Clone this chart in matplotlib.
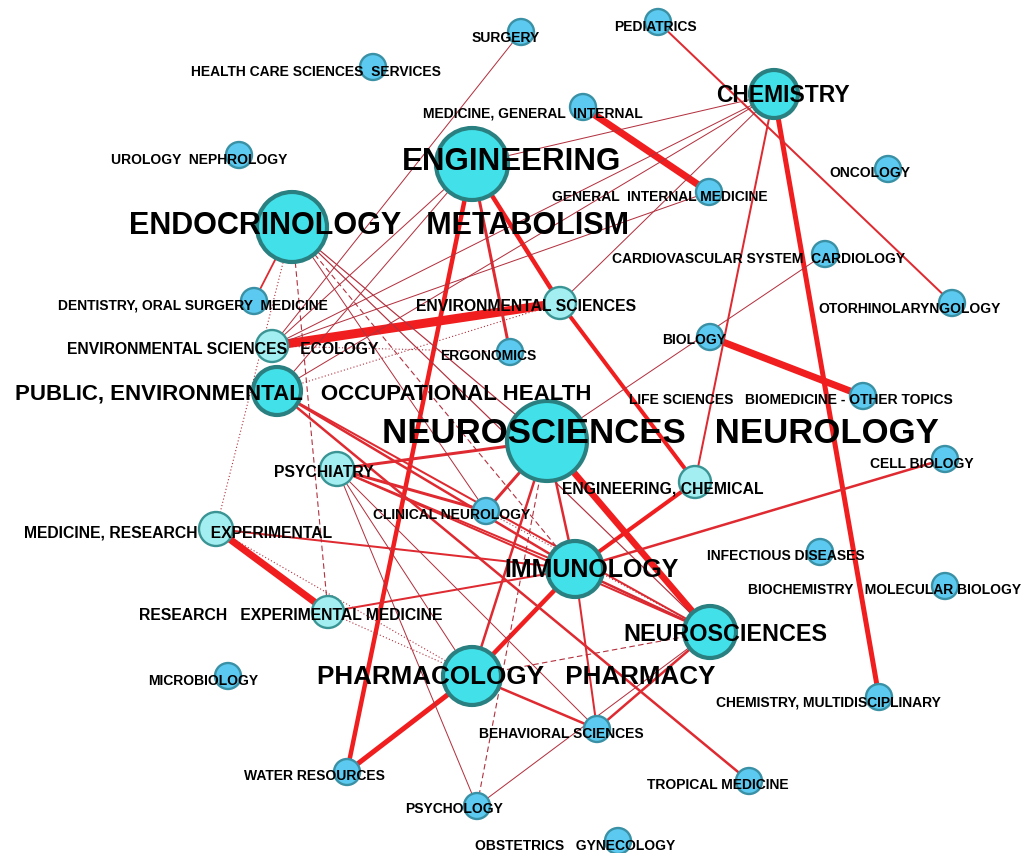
import matplotlib
matplotlib.use("Agg")
import matplotlib.pyplot as plt

plt.rcParams['font.family'] = ['Liberation Sans', 'DejaVu Sans']

# ---------------- data ----------------
nodes = [
    "SURGERY", "HEALTH CARE SCIENCES  SERVICES", "PEDIATRICS", "CHEMISTRY",
    "MEDICINE, GENERAL  INTERNAL", "ENGINEERING", "UROLOGY  NEPHROLOGY", "ONCOLOGY",
    "GENERAL  INTERNAL MEDICINE", "ENDOCRINOLOGY   METABOLISM",
    "CARDIOVASCULAR SYSTEM  CARDIOLOGY", "DENTISTRY, ORAL SURGERY  MEDICINE",
    "ENVIRONMENTAL SCIENCES", "OTORHINOLARYNGOLOGY", "ENVIRONMENTAL SCIENCES   ECOLOGY",
    "ERGONOMICS", "BIOLOGY", "PUBLIC, ENVIRONMENTAL   OCCUPATIONAL HEALTH",
    "LIFE SCIENCES   BIOMEDICINE - OTHER TOPICS", "NEUROSCIENCES   NEUROLOGY",
    "CELL BIOLOGY", "PSYCHIATRY", "ENGINEERING, CHEMICAL", "CLINICAL NEUROLOGY",
    "MEDICINE, RESEARCH   EXPERIMENTAL", "IMMUNOLOGY", "INFECTIOUS DISEASES",
    "BIOCHEMISTRY   MOLECULAR BIOLOGY", "RESEARCH   EXPERIMENTAL MEDICINE",
    "NEUROSCIENCES", "MICROBIOLOGY", "PHARMACOLOGY   PHARMACY",
    "CHEMISTRY, MULTIDISCIPLINARY", "BEHAVIORAL SCIENCES", "WATER RESOURCES",
    "TROPICAL MEDICINE", "PSYCHOLOGY", "OBSTETRICS   GYNECOLOGY",
]
# node importance class: 2 = hub, 1 = mid, 0 = small
node_class = [0, 0, 0, 2, 0, 2, 0, 0, 0, 2, 0, 0, 1, 0, 1, 0, 0, 2, 0, 2,
              0, 1, 1, 0, 1, 2, 0, 0, 1, 2, 0, 2, 0, 0, 0, 0, 0, 0]
node_weight = [13, 13, 13, 24, 13, 36, 13, 13, 13, 35, 13, 13, 16, 13, 16, 13, 13, 24, 13, 40,
               13, 17, 16, 13, 17, 28, 13, 13, 16, 26, 13, 29, 13, 13, 13, 13, 13, 13]

# edges: source, target, weight, kind ('s' solid, 'd' dashed, 'o' dotted)
edge_src = [
    "ENVIRONMENTAL SCIENCES   ECOLOGY", "MEDICINE, GENERAL  INTERNAL", "BIOLOGY",
    "MEDICINE, RESEARCH   EXPERIMENTAL", "NEUROSCIENCES   NEUROLOGY", "CHEMISTRY",
    "ENGINEERING", "PHARMACOLOGY   PHARMACY", "ENGINEERING", "ENVIRONMENTAL SCIENCES",
    "ENGINEERING, CHEMICAL", "IMMUNOLOGY",
    "ENGINEERING", "PSYCHIATRY", "PSYCHIATRY", "NEUROSCIENCES   NEUROLOGY",
    "NEUROSCIENCES   NEUROLOGY", "NEUROSCIENCES   NEUROLOGY",
    "PUBLIC, ENVIRONMENTAL   OCCUPATIONAL HEALTH", "PUBLIC, ENVIRONMENTAL   OCCUPATIONAL HEALTH",
    "PUBLIC, ENVIRONMENTAL   OCCUPATIONAL HEALTH", "PSYCHIATRY", "PSYCHIATRY",
    "IMMUNOLOGY", "IMMUNOLOGY", "IMMUNOLOGY", "NEUROSCIENCES", "PHARMACOLOGY   PHARMACY",
    "MEDICINE, RESEARCH   EXPERIMENTAL", "RESEARCH   EXPERIMENTAL MEDICINE", "CHEMISTRY",
    "PEDIATRICS", "ENDOCRINOLOGY   METABOLISM",
    "SURGERY", "CHEMISTRY", "CHEMISTRY", "CHEMISTRY", "CHEMISTRY",
    "ENGINEERING", "ENGINEERING", "ENVIRONMENTAL SCIENCES   ECOLOGY",
    "ENDOCRINOLOGY   METABOLISM", "ENDOCRINOLOGY   METABOLISM", "ENDOCRINOLOGY   METABOLISM",
    "NEUROSCIENCES   NEUROLOGY", "PSYCHIATRY", "PSYCHIATRY", "PSYCHIATRY", "NEUROSCIENCES",
    "ENDOCRINOLOGY   METABOLISM", "ENDOCRINOLOGY   METABOLISM", "NEUROSCIENCES   NEUROLOGY",
    "PHARMACOLOGY   PHARMACY",
    "ENDOCRINOLOGY   METABOLISM", "PUBLIC, ENVIRONMENTAL   OCCUPATIONAL HEALTH",
    "MEDICINE, RESEARCH   EXPERIMENTAL", "RESEARCH   EXPERIMENTAL MEDICINE", "IMMUNOLOGY",
    "CLINICAL NEUROLOGY", "ENVIRONMENTAL SCIENCES   ECOLOGY",
]
edge_dst = [
    "ENVIRONMENTAL SCIENCES", "GENERAL  INTERNAL MEDICINE", "LIFE SCIENCES   BIOMEDICINE - OTHER TOPICS",
    "RESEARCH   EXPERIMENTAL MEDICINE", "NEUROSCIENCES", "CHEMISTRY, MULTIDISCIPLINARY",
    "WATER RESOURCES", "WATER RESOURCES", "ENVIRONMENTAL SCIENCES", "ENGINEERING, CHEMICAL",
    "IMMUNOLOGY", "PHARMACOLOGY   PHARMACY",
    "ERGONOMICS", "NEUROSCIENCES   NEUROLOGY", "CLINICAL NEUROLOGY", "CLINICAL NEUROLOGY",
    "IMMUNOLOGY", "PHARMACOLOGY   PHARMACY",
    "TROPICAL MEDICINE", "IMMUNOLOGY", "NEUROSCIENCES", "IMMUNOLOGY", "NEUROSCIENCES",
    "CELL BIOLOGY", "NEUROSCIENCES", "BEHAVIORAL SCIENCES", "BEHAVIORAL SCIENCES",
    "BEHAVIORAL SCIENCES", "IMMUNOLOGY", "IMMUNOLOGY", "ENGINEERING, CHEMICAL",
    "OTORHINOLARYNGOLOGY", "DENTISTRY, ORAL SURGERY  MEDICINE",
    "ENVIRONMENTAL SCIENCES   ECOLOGY", "ENGINEERING", "ENVIRONMENTAL SCIENCES   ECOLOGY",
    "ENVIRONMENTAL SCIENCES", "PUBLIC, ENVIRONMENTAL   OCCUPATIONAL HEALTH",
    "ENVIRONMENTAL SCIENCES   ECOLOGY", "PUBLIC, ENVIRONMENTAL   OCCUPATIONAL HEALTH",
    "GENERAL  INTERNAL MEDICINE",
    "NEUROSCIENCES   NEUROLOGY", "NEUROSCIENCES", "CLINICAL NEUROLOGY",
    "CARDIOVASCULAR SYSTEM  CARDIOLOGY", "PHARMACOLOGY   PHARMACY", "PSYCHOLOGY",
    "BEHAVIORAL SCIENCES", "PSYCHOLOGY",
    "IMMUNOLOGY", "RESEARCH   EXPERIMENTAL MEDICINE", "PSYCHOLOGY", "NEUROSCIENCES",
    "MEDICINE, RESEARCH   EXPERIMENTAL", "ENVIRONMENTAL SCIENCES",
    "PHARMACOLOGY   PHARMACY", "PHARMACOLOGY   PHARMACY", "NEUROSCIENCES",
    "NEUROSCIENCES", "ERGONOMICS",
]
edge_weight = [
    9, 7, 7, 7, 6.5, 5, 4.5, 5, 4.5, 4, 4, 4.5,
    3, 3, 3, 3, 2.5, 2.5, 2.5, 2.5, 2, 2, 2, 2.5, 2.5, 2, 2.5, 2.5, 2, 2, 2, 2, 1.8,
    1, 1, 1, 1, 1, 1, 1, 1, 1.2, 1.2, 1, 1, 1, 1, 1, 1,
    1, 1, 1, 1,
    1, 1, 1, 1, 1, 1, 1,
]
edge_kind = (['s'] * 49) + (['d'] * 4) + (['o'] * 7)

# ---------------- layout (pixel space of the drawing) ----------------
layout_x = [521, 373, 658, 774, 583, 472, 239, 888, 709, 292, 825, 254, 560, 952, 272, 510, 710,
            277, 863, 547, 945, 337, 695, 486, 216, 575, 820, 945, 328, 710, 228, 472, 879, 597,
            347, 749, 477, 618]
layout_y = [33, 68, 23, 95, 108, 165, 156, 170, 193, 228, 255, 302, 304, 304, 347, 353, 338,
            392, 397, 442, 460, 470, 483, 512, 530, 570, 553, 587, 613, 633, 677, 677, 698, 730,
            773, 782, 807, 842]
label_x = [506, 316, 655, 783, 533, 512, 199, 870, 660, 379, 759, 193, 526, 910, 223, 488, 694,
           303, 791, 660, 922, 324, 663, 452, 178, 592, 786, 885, 291, 725, 203, 516, 828, 561,
           314, 718, 454, 575]
label_y = [38, 72, 27, 96, 113, 162, 160, 173, 197, 226, 259, 306, 307, 309, 350, 356, 340,
           394, 400, 434, 464, 473, 489, 515, 533, 570, 556, 590, 616, 635, 681, 677, 703, 734,
           776, 785, 809, 846]
big_sizes = {"CHEMISTRY": 16.5, "ENGINEERING": 22.5, "ENDOCRINOLOGY   METABOLISM": 22,
             "PUBLIC, ENVIRONMENTAL   OCCUPATIONAL HEALTH": 16,
             "NEUROSCIENCES   NEUROLOGY": 25, "IMMUNOLOGY": 18, "NEUROSCIENCES": 16.8,
             "PHARMACOLOGY   PHARMACY": 18.7}

W, H = 1029, 854
fig = plt.figure(figsize=(W / 100, H / 100), dpi=100)
ax = fig.add_axes([0, 0, 1, 1])
ax.set_xlim(0, W)
ax.set_ylim(H, 0)
ax.axis('off')

idx = {n: i for i, n in enumerate(nodes)}

# edges
for s, t, w, k in zip(edge_src, edge_dst, edge_weight, edge_kind):
    i, j = idx[s], idx[t]
    xs = [layout_x[i], layout_x[j]]
    ys = [layout_y[i], layout_y[j]]
    if k == 's':
        if w >= 3.5:
            col = '#f01e1e'
        elif w >= 1.8:
            col = '#de2a30'
        else:
            col = '#b3303e'
        ax.plot(xs, ys, color=col, lw=w * 0.72, solid_capstyle='butt', zorder=1)
    elif k == 'd':
        ax.plot(xs, ys, color='#b3303e', lw=0.8, dashes=(5, 3), zorder=1)
    else:
        ax.plot(xs, ys, color='#b3303e', lw=0.8, dashes=(1, 2), zorder=1)

# nodes
fills = {2: '#42e0e8', 1: '#a2eef0', 0: '#5ccaf0'}
edges_c = {2: '#2a8080', 1: '#3a9494', 0: '#3a90a4'}
for i, n in enumerate(nodes):
    c = node_class[i]
    r = node_weight[i]
    lw = 3.0 if c == 2 else 1.7
    circ = plt.Circle((layout_x[i], layout_y[i]), r, facecolor=fills[c],
                      edgecolor=edges_c[c], lw=lw, zorder=2)
    ax.add_patch(circ)

# labels
for i, n in enumerate(nodes):
    c = node_class[i]
    if n in big_sizes:
        fs = big_sizes[n]
    elif c == 1:
        fs = 11.3
    else:
        fs = 10
    ax.text(label_x[i], label_y[i], n, ha='center', va='center', fontsize=fs,
            fontweight='bold', color='#000000', zorder=3)

fig.savefig('out.png', dpi=100)
